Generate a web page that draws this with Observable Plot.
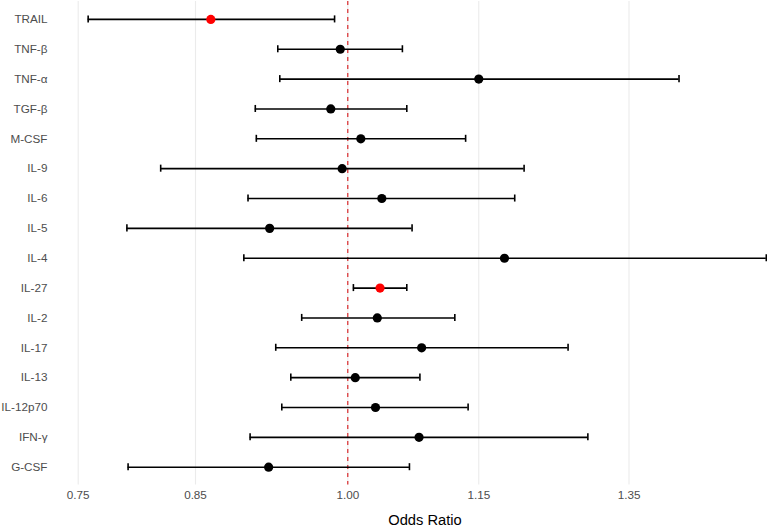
<!DOCTYPE html>
<html>
<head>
<meta charset="utf-8">
<script src="https://cdn.jsdelivr.net/npm/d3@7"></script>
<script src="https://cdn.jsdelivr.net/npm/@observablehq/plot@0.6"></script>
<style>
  html, body { margin: 0; padding: 0; background: #fff; overflow: hidden; }
</style>
</head>
<body>
<div id="chart"></div>
<script>
// Cytokines, odds ratios and 95% confidence intervals
const cytokines = ["TRAIL", "TNF-β", "TNF-α", "TGF-β", "M-CSF", "IL-9", "IL-6", "IL-5",
  "IL-4", "IL-27", "IL-2", "IL-17", "IL-13", "IL-12p70", "IFN-γ", "G-CSF"];
const oddsRatio = [0.864, 0.992, 1.150, 0.982, 1.014, 0.994, 1.037, 0.920,
  1.182, 1.035, 1.032, 1.082, 1.008, 1.030, 1.079, 0.919];
const lowerCI = [0.758, 0.928, 0.930, 0.906, 0.907, 0.819, 0.899, 0.790,
  0.895, 1.006, 0.952, 0.926, 0.941, 0.932, 0.901, 0.791];
const upperCI = [0.986, 1.060, 1.424, 1.065, 1.134, 1.207, 1.195, 1.071,
  1.563, 1.065, 1.121, 1.265, 1.080, 1.137, 1.292, 1.068];
const significant = ["TRAIL", "IL-27"];
const xTicks = [0.75, 0.85, 1.00, 1.15, 1.35];
const xTitle = "Odds Ratio";

const rows = cytokines.map((name, i) => ({
  name, or: oddsRatio[i], lo: lowerCI[i], hi: upperCI[i],
  sig: significant.includes(name)
}));

const chart = Plot.plot({
  width: 767,
  height: 527,
  marginTop: 1,
  marginBottom: 42.4,
  marginLeft: 52,
  marginRight: 0,
  style: {
    fontFamily: "'Liberation Sans', Arial, sans-serif",
    fontSize: "11.7px",
    background: "#ffffff",
    color: "#4d4d4d"
  },
  x: {
    type: "log",
    domain: [0.7297, 1.6142],
    range: [52, 796]
  },
  y: {
    type: "band",
    domain: cytokines,
    paddingInner: 0,
    paddingOuter: 0.1,
    round: false
  },
  marks: [
    Plot.gridX(xTicks, { stroke: "#ebebeb", strokeOpacity: 1, strokeWidth: 1.1 }),
    Plot.ruleX([1], { stroke: "#d7191c", strokeWidth: 1.1, strokeDasharray: "4,4" }),
    Plot.ruleY(rows, { y: "name", x1: "lo", x2: "hi", stroke: "#000", strokeWidth: 1.6 }),
    Plot.tickX(rows, { y: "name", x: "lo", stroke: "#000", strokeWidth: 1.6, insetTop: 11.4, insetBottom: 11.4 }),
    Plot.tickX(rows, { y: "name", x: "hi", stroke: "#000", strokeWidth: 1.6, insetTop: 11.4, insetBottom: 11.4 }),
    Plot.dot(rows, { y: "name", x: "or", r: 4.6, fill: d => d.sig ? "#ff0000" : "#000000", stroke: "none" }),
    Plot.axisY({ tickSize: 0, tickPadding: 5, fill: "#4d4d4d", fontSize: 11.7, label: null }),
    Plot.axisX({
      ticks: xTicks, tickFormat: d3.format(".2f"), tickSize: 0, tickPadding: 6,
      fill: "#4d4d4d", fontSize: 11.7, label: null
    }),
    // axis title, centred on the full panel width (the panel runs past the right edge)
    Plot.text([xTitle], {
      frameAnchor: "bottom", text: d => d, dx: 15, dy: 35.5,
      lineAnchor: "middle", fontSize: 14.7, fill: "#000"
    })
  ]
});

document.getElementById("chart").appendChild(chart);
</script>
</body>
</html>
